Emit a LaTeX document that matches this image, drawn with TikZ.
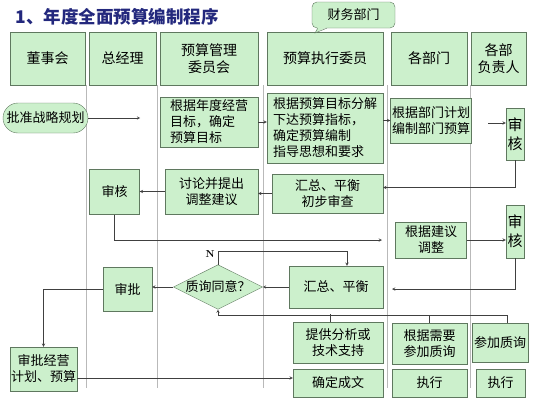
\documentclass[tikz,border=0pt]{standalone}
\usepackage{fontspec}
\newfontfamily\cjk{Noto Sans CJK SC}
\usetikzlibrary{shapes.geometric}
\definecolor{boxfill}{RGB}{204,240,204}
\definecolor{boxline}{RGB}{95,120,95}
\definecolor{lanegray}{RGB}{185,185,185}
\definecolor{titleblue}{RGB}{35,40,125}
\begin{document}
\begin{tikzpicture}[x=1pt, y=-1pt,
    box/.style={draw=boxline, fill=boxfill, inner sep=1pt, align=center,
        font=\cjk\fontsize{13}{16}\selectfont},
    head/.style={box, minimum height=53pt, font=\cjk\fontsize{14}{17}\selectfont},
    shen/.style={box, minimum width=18pt, minimum height=52pt, inner sep=0pt,
        font=\cjk\fontsize{15}{19}\selectfont},
    flow/.style={draw=black!75, line width=0.5pt, ->, >=stealth},
    lane/.style={draw=lanegray, line width=0.5pt}]
  \useasboundingbox (0,0) rectangle (534,400);
  % lanes
  \foreach \x in {86,157,263,387,470}
    \draw[lane] (\x,85) -- (\x,388);
  % title and header row
  \node[anchor=west, text=titleblue, font=\cjk\bfseries\fontsize{17.5}{20}\selectfont] (title) at (12,17) {1、年度全面预算编制程序};
  \node[head, minimum width=75pt] (dongshi) at (47.5,58.5) {董事会};
  \node[head, minimum width=67pt] (zongjingli) at (122.5,58.5) {总经理};
  \node[head, minimum width=98pt] (guanli) at (209,58.5) {预算管理\\委员会};
  \node[head, minimum width=116pt] (zhixing) at (325,58.5) {预算执行委员};
  \node[head, minimum width=76pt] (bumen) at (429,58.5) {各部门};
  \node[head, minimum width=55pt] (fuzeren) at (498.5,58.5) {各部\\负责人};
  \node[box, rounded corners=5pt, minimum width=83pt, minimum height=26pt] (caiwu) at (353.5,15) {财务部门};
  \fill[boxfill] ([shift={(6pt,1pt)}]caiwu.south west) -- (315,33) -- ([shift={(15pt,1pt)}]caiwu.south west) -- cycle;
  \draw[boxline] ([xshift=6pt]caiwu.south west) -- (315,33) -- ([xshift=15pt]caiwu.south west);
  % flow
  \node[box, rounded corners=15pt, minimum width=85pt, minimum height=30pt] (guihua) at (45.5,118) {批准战略规划};
  \node[box, align=left, minimum width=98pt, minimum height=50pt] (mubiao) at (209,122) {根据年度经营\\目标，确定\\预算目标};
  \node[box, align=left, minimum width=116pt, minimum height=70pt] (fenjie) at (325,128) {根据预算目标分解\\下达预算指标，\\确定预算编制\\指导思想和要求};
  \node[box, minimum width=81pt, minimum height=45pt] (bianzhi) at (431,120.5) {根据部门计划\\编制部门预算};
  \node[shen] (shenhe1) at (515,134) {审\\核};
  \node[box, minimum width=111pt, minimum height=39pt] (chucha) at (327.5,193.5) {汇总、平衡\\初步审查};
  \node[box, minimum width=93pt, minimum height=45pt] (taolun) at (211.5,191.5) {讨论并提出\\调整建议};
  \node[box, minimum width=50pt, minimum height=45pt] (shenhe2) at (114.5,192) {审核};
  \node[box, minimum width=71pt, minimum height=36pt] (tiaozheng) at (431,240) {根据建议\\调整};
  \node[shen, minimum height=53pt] (shenhe3) at (515,231.5) {审\\核};
  \node[box, minimum width=94pt, minimum height=42pt] (pingheng) at (336,287) {汇总、平衡};
  \node[box, diamond, aspect=2, inner sep=0pt, minimum width=80pt, minimum height=40pt] (zhixun) at (218,287) {质询同意？};
  \node[box, minimum width=49pt, minimum height=44pt] (shenpi) at (127.5,289) {审批};
  \node[box, minimum width=67pt, minimum height=44pt] (jihua) at (43.5,369) {审批经营\\计划、预算};
  \node[box, minimum width=90pt, minimum height=41pt] (zhichi) at (338,343) {提供分析或\\技术支持};
  \node[box, minimum width=75pt, minimum height=41pt] (canjia1) at (429.5,343.5) {根据需要\\参加质询};
  \node[box, minimum width=56pt, minimum height=39pt] (canjia2) at (500,342.5) {参加质询};
  \node[box, minimum width=90pt, minimum height=28pt] (chengwen) at (338,383) {确定成文};
  \node[box, minimum width=75pt, minimum height=28pt] (zhixing1) at (429.5,383) {执行};
  \node[box, minimum width=49pt, minimum height=28pt] (zhixing2) at (500.5,383) {执行};
  \node[font=\bfseries] (nlabel) at (210,254) {N};
  % connectors
  \coordinate (c1) at (488,123);
  \coordinate (c2) at (382,240);
  \coordinate (c3) at (392,289);
  \draw[flow] (guihua.east) -- ++(52,0);
  \draw[flow] (mubiao.east) -- (mubiao.east -| fenjie.west);
  \draw[flow] (bianzhi.west -| fenjie.east) -- (bianzhi.west);
  \draw[flow] (c1) -- (c1 -| shenhe1.west);
  \draw[flow] (shenhe1.south) |- ([yshift=6pt]chucha.east);
  \draw[flow] (chucha.west) -- (chucha.west -| taolun.east);
  \draw[flow] (taolun.west) -- (taolun.west -| shenhe2.east);
  \draw[flow] (shenhe2.south) |- (c2);
  \draw[flow] (tiaozheng.east) -- (tiaozheng.east -| shenhe3.west);
  \draw[flow] (shenhe3.south) |- (c3);
  \draw[flow] (pingheng.west) -- (zhixun.east);
  \draw[flow] (zhixun.west) -- (zhixun.west -| shenpi.east);
  \draw[flow] (zhixun.north) -- ++(0,-13) -| ([xshift=11pt]pingheng.north);
  \draw[flow] (shenpi.west) -| (jihua.north);
  \draw[flow] ([yshift=-9pt]jihua.east) -- ([yshift=-9pt]jihua.east -| chengwen.west);
  \draw[flow] ([xshift=7pt]canjia2.north) -- ++(0,-8) -| (zhixun.south);
  \draw[flow, -] ([xshift=-8pt]zhichi.north) -- ++(0,-8);
  \draw[flow, -] (canjia1.north) -- ++(0,-8);
\end{tikzpicture}
\end{document}
